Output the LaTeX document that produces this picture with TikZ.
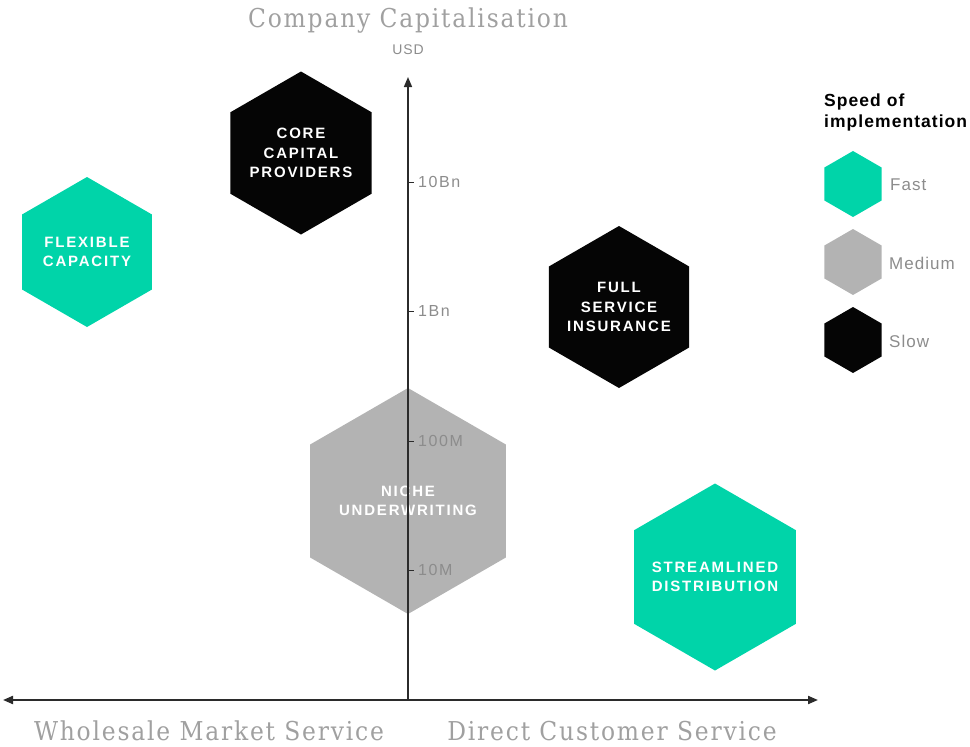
\documentclass[tikz,border=0pt]{standalone}
\usepackage{fontspec}
\setmainfont{Liberation Sans}
\newfontfamily\slabfont[LetterSpace=7]{DejaVu Serif Condensed}
\newfontfamily\hexfont[LetterSpace=12]{Liberation Sans}
\newfontfamily\tickfont[LetterSpace=10]{Liberation Sans}
\newfontfamily\legfont[LetterSpace=6]{Liberation Sans}
\usetikzlibrary{shapes.geometric,arrows.meta}
\definecolor{fastc}{HTML}{00D4A9}
\definecolor{medc}{HTML}{B3B3B3}
\definecolor{slowc}{HTML}{050505}
\definecolor{labc}{HTML}{8C8C8C}
\definecolor{titlec}{HTML}{A0A0A0}
\definecolor{axisc}{HTML}{2B2B2B}
\begin{document}
\begin{tikzpicture}[x=1pt,y=-1pt,
  hexa/.style={regular polygon, regular polygon sides=6, regular polygon rotate=30,
    inner sep=0pt, outer sep=0pt, draw=none, minimum size=#1},
  hextext/.style={text=white, align=center, inner sep=0pt,
    font={\hexfont\bfseries\fontsize{15}{19.5}\selectfont}},
  ticklab/.style={anchor=west, inner sep=0pt, text=labc,
    font={\tickfont\fontsize{16}{18}\selectfont}},
  leglab/.style={anchor=west, inner sep=0pt, text=labc,
    font={\legfont\fontsize{17}{20}\selectfont}},
  axistitle/.style={inner sep=0pt, text=titlec,
    font={\slabfont\fontsize{26}{30}\selectfont}},
  sidetitle/.style={axistitle, anchor=base, text depth=0pt},
  axisline/.style={draw=axisc, line width=1.5pt},
  tip/.tip={Triangle[length=10pt,width=8pt]},
]
\useasboundingbox (0,0) rectangle (970,747);

% quadrant hexagons
\node[hexa=150pt, fill=fastc] (flex) at (87,252) {};
\node[hextext] (flext) at (flex) {FLEXIBLE\\CAPACITY};

\node[hexa=163pt, fill=slowc] (core) at (301,153) {};
\node[hextext] (coret) at (core) {CORE\\CAPITAL\\PROVIDERS};

\node[hexa=162pt, fill=slowc] (full) at (619,307) {};
\node[hextext] (fullt) at (full) {FULL\\SERVICE\\INSURANCE};

\node[hexa=226pt, fill=medc] (niche) at (408,501) {};
\node[hextext] (nichet) at (niche) {NICHE\\UNDERWRITING};

\node[hexa=187pt, fill=fastc] (stream) at (715,577) {};
\node[hextext] (streamt) at (stream) {STREAMLINED\\DISTRIBUTION};

% axes
\coordinate (org) at (408,700);
\coordinate (ytop) at (408,77);
\coordinate (xl) at (3,700);
\coordinate (xr) at (818,700);
\draw[axisline, -tip] (org) -- (ytop);
\draw[axisline, line width=2pt, tip-tip] (xl) -- (xr);

% ticks on the capitalisation axis
\foreach \yy/\lab/\nm in {182/10Bn/a, 311/1Bn/b, 441/100M/c, 570/10M/d}{
  \coordinate (tick\nm) at (408,\yy);
  \draw[axisc, line width=1pt] (tick\nm) -- ++(6,0);
  \node[ticklab] (lab\nm) at (418,\yy) {\lab};
}

% axis titles
\node[axistitle, anchor=base] (captitle) at (408,27) {Company Capitalisation};
\node[inner sep=0pt, text=labc, font={\legfont\fontsize{14}{16}\selectfont}] (usd) at (408,50) {USD};
\node[sidetitle] (wholesale) at (209,740) {Wholesale Market Service};
\node[sidetitle] (direct) at (612,740) {Direct Customer Service};

% legend
\node[anchor=north west, inner sep=0pt, align=left,
  font={\legfont\bfseries\fontsize{17.5}{21}\selectfont}] (legtitle) at (824,94) {Speed of\\implementation};
\node[hexa=66pt, fill=fastc] (legfast) at (853,184) {};
\node[leglab] (legfastt) at (890,185) {Fast};
\node[hexa=66pt, fill=medc] (legmed) at (853,262) {};
\node[leglab] (legmedt) at (889,263) {Medium};
\node[hexa=66pt, fill=slowc] (legslow) at (853,340) {};
\node[leglab] (legslowt) at (889,341) {Slow};
\end{tikzpicture}
\end{document}
